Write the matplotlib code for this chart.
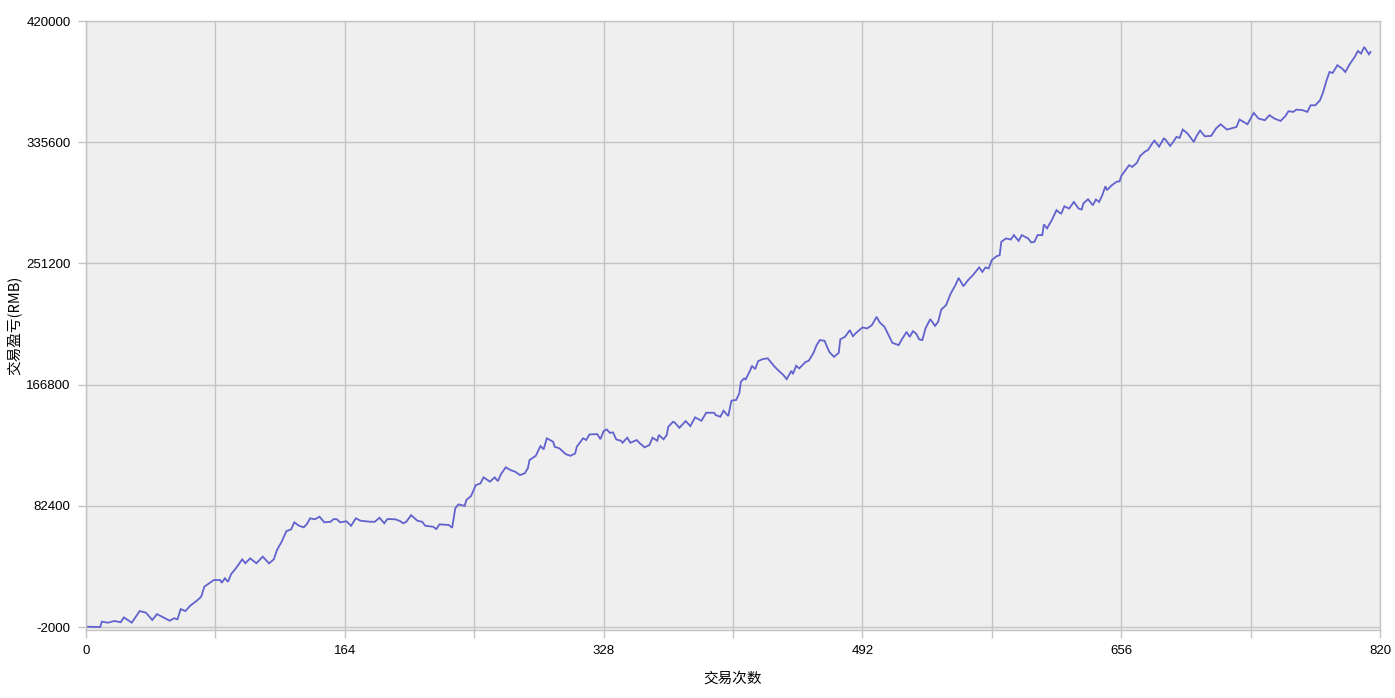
import matplotlib
matplotlib.use("Agg")
import matplotlib.pyplot as plt
import numpy as np

# trade count vs cumulative P&L
trades = [0, 9, 10, 14, 18, 22, 24, 29, 34, 38, 42, 45, 49, 53, 56, 58, 60, 63, 66, 70,
          73, 75, 78, 81, 85, 86, 88, 90, 92, 95, 99, 101, 104, 108, 112, 116, 119, 121, 124, 127,
          130, 132, 135, 138, 140, 142, 145, 148, 151, 155, 157, 159, 161, 165, 168, 171, 174, 180, 183, 186,
          189, 191, 196, 199, 201, 203, 206, 210, 213, 215, 220, 222, 224, 230, 232, 234, 236, 240, 241, 244,
          247, 250, 251, 252, 256, 259, 261, 263, 266, 269, 272, 275, 278, 280, 281, 285, 288, 290, 292, 296,
          297, 300, 304, 307, 310, 311, 315, 317, 319, 324, 326, 328, 330, 332, 334, 336, 339, 340, 343, 345,
          349, 351, 354, 357, 359, 362, 363, 366, 368, 369, 372, 373, 376, 380, 383, 386, 390, 393, 398, 399,
          402, 404, 407, 409, 412, 414, 415, 417, 418, 421, 422, 424, 426, 429, 432, 436, 439, 442, 444, 447,
          448, 450, 452, 456, 458, 461, 463, 465, 468, 471, 474, 477, 478, 481, 484, 486, 488, 492, 495, 498,
          501, 503, 506, 511, 515, 517, 520, 522, 524, 526, 528, 530, 532, 535, 538, 540, 542, 545, 548, 551,
          553, 556, 559, 562, 566, 568, 570, 572, 574, 577, 579, 580, 583, 586, 588, 591, 593, 597, 599, 601,
          603, 606, 607, 609, 612, 615, 617, 618, 620, 623, 626, 629, 631, 632, 635, 638, 640, 642, 644, 646,
          647, 650, 653, 655, 656, 661, 663, 666, 668, 671, 673, 675, 677, 680, 683, 684, 687, 689, 691, 693,
          695, 698, 702, 704, 706, 709, 713, 716, 719, 723, 729, 731, 736, 740, 743, 747, 750, 753, 757, 760,
          762, 765, 767, 771, 774, 776, 779, 782, 784, 786, 788, 790, 793, 796, 798, 801, 804, 806, 808, 810,
          813, 814]
pnl = [-1800, -2000, 1700, 1000, 2200, 1300, 4700, 1000, 9100, 8000, 2900, 7000, 4700, 2400, 4100, 3400, 10500, 9100, 12800, 16100,
       19100, 26100, 28400, 30700, 30700, 28800, 31900, 29500, 34900, 38900, 45100, 42400, 45800, 42400, 47000, 42300, 45100, 51600, 57400, 64800,
       66000, 70900, 68500, 67400, 69700, 73700, 73000, 74800, 70900, 71300, 73200, 73000, 70900, 71600, 68500, 73700, 72000, 71300, 71300, 74100,
       70200, 73200, 73000, 71800, 70200, 71300, 75900, 72000, 71300, 68500, 67800, 66200, 69500, 69000, 67100, 80600, 83400, 82400, 86400, 89200,
       96800, 98000, 100300, 102200, 99200, 102200, 99600, 104500, 109200, 107300, 106100, 103800, 105000, 108500, 114200, 117200, 124000, 121700, 129400, 127000,
       123500, 122400, 118400, 117200, 118900, 123500, 129400, 128200, 132100, 132300, 128800, 134400, 135600, 133200, 133500, 128600, 127700, 126300, 129800, 126300,
       128200, 125900, 123100, 124700, 129800, 127700, 131700, 128700, 131700, 137400, 140900, 140500, 136700, 141400, 137900, 144000, 141600, 147200, 147200, 145600,
       144400, 148600, 144900, 155600, 156100, 160700, 168800, 171100, 170400, 176900, 179900, 177600, 183200, 184600, 185100, 179700, 176400, 173400, 170600, 176400,
       174100, 179900, 178100, 182600, 183400, 188900, 194300, 197800, 197300, 189600, 186100, 188900, 198300, 200100, 204700, 200500, 202800, 206600, 205900, 208200,
       214000, 210100, 207000, 195900, 194300, 198300, 203500, 200000, 204000, 202400, 198300, 197800, 206000, 212400, 207700, 210500, 219100, 222100, 230300, 236200,
       241100, 235300, 239600, 243000, 248400, 245300, 248400, 247700, 253500, 256200, 256900, 266200, 268600, 267800, 270900, 266900, 270900, 268600, 265800, 266200,
       270900, 270900, 278300, 275600, 281300, 288300, 286400, 285900, 291000, 289400, 294000, 289400, 288700, 292900, 295900, 291700, 295700, 294000, 298700, 304900,
       302200, 305600, 308000, 308400, 312000, 319600, 318400, 321300, 326000, 329000, 330200, 333700, 336700, 332500, 338200, 337500, 333000, 335800, 339300, 338600,
       344400, 341700, 335800, 340400, 343700, 339700, 340000, 345100, 348100, 344400, 346200, 351400, 348100, 356000, 352100, 350900, 354400, 352100, 350400, 353700,
       357200, 356700, 358300, 357900, 356700, 361300, 361300, 364800, 370600, 378200, 384500, 383800, 389200, 386900, 384500, 390300, 395000, 399100, 397300, 401900,
       396800, 398400]

x_ticks = [0, 164, 328, 492, 656, 820]
y_ticks = [-2000, 82400, 166800, 251200, 335600, 420000]

cjk = ['Noto Sans CJK SC', 'DejaVu Sans']
grid_c = '#C4C4C4'

fig = plt.figure(figsize=(13.95, 6.98), dpi=100)
ax = fig.add_axes([86/1395, 1-629.5/698, (1380-86)/1395, (629.5-21)/698])
ax.set_facecolor('#EFEFEF')

ax.plot(trades, pnl, color='#6262CE', lw=1.3, solid_joinstyle='miter')

ax.set_xlim(0, 820)
ax.set_ylim(-2000 - 2.5*696, 420000)
ax.set_xticks(x_ticks)
ax.set_xticks(np.arange(82, 820, 164), minor=True)
ax.set_yticks(y_ticks)
ax.set_xticklabels([str(v) for v in x_ticks], fontsize=9.5, family='Liberation Sans')
ax.set_yticklabels([str(v) for v in y_ticks], fontsize=9.5, family='Liberation Sans')

ax.grid(True, which='both', color=grid_c, lw=1.0)
ax.set_axisbelow(True)
ax.tick_params(which='both', direction='out', length=6, width=1, color=grid_c, pad=5)
for s in ax.spines.values():
    s.set_color(grid_c)
    s.set_linewidth(1.0)

ax.set_xlabel('交易次数', family=cjk, fontsize=10.5)
ax.set_ylabel('交易盈亏(RMB)', family=cjk, fontsize=10.5)
ax.xaxis.set_label_coords(0.5, -(679 - 629.5) / 608.5, transform=ax.transAxes)
ax.yaxis.set_label_coords((15 - 86) / 1294, 0.5 + (325 - 325) / 608.5, transform=ax.transAxes)
ax.xaxis.label.set_va('center')
ax.yaxis.label.set_va('center')

fig.savefig('out.png', dpi=100, facecolor='white')
